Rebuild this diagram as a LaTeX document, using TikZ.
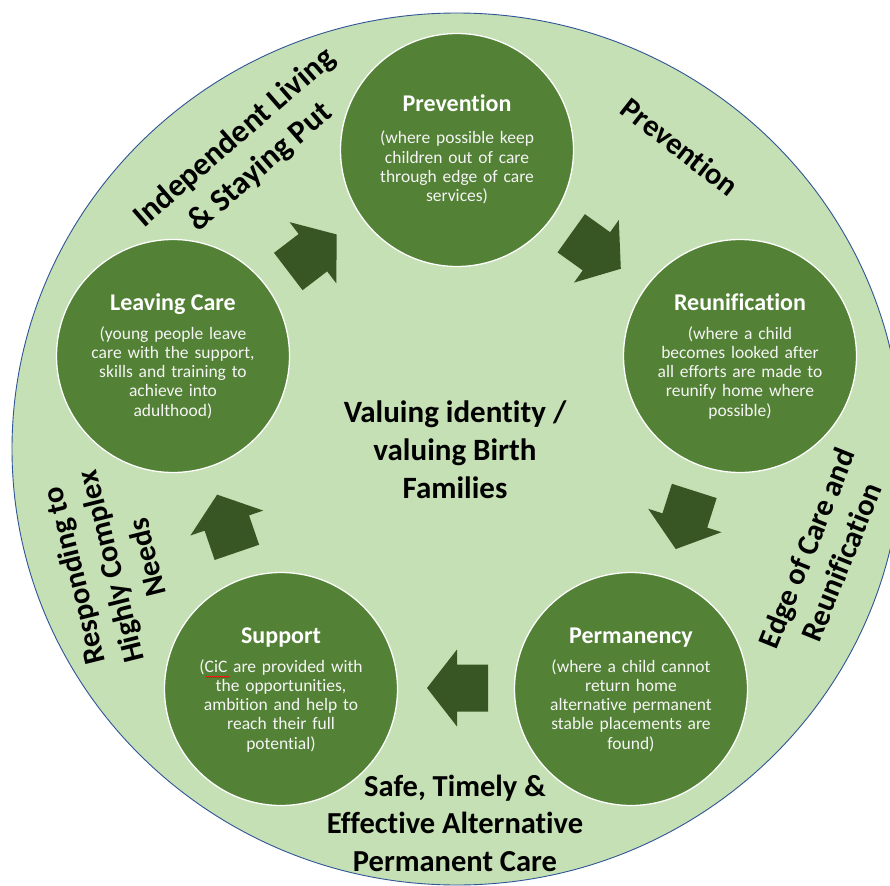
\documentclass[tikz,border=0pt]{standalone}
\usepackage{fontspec}
\setmainfont{Carlito}[Ligatures={NoCommon}]
\usetikzlibrary{decorations.pathmorphing}
\definecolor{bigfill}{HTML}{C5E0B4}
\definecolor{bigline}{HTML}{2F5597}
\definecolor{stagefill}{HTML}{538135}
\definecolor{arrowfill}{HTML}{375623}
\newcommand{\stagearrow}[4]{%
  \fill[arrowfill,shift={(#2,#3)},rotate=#4] (-30.5,-23.5) coordinate (#1) -- (0.5,-23.5) -- (0.5,-38.5) -- (30.5,0) -- (0.5,38.5) -- (0.5,23.5) -- (-30.5,23.5) -- cycle;}
\begin{document}
\begin{tikzpicture}[x=1pt,y=-1pt,
  stage/.style={circle,draw=white,line width=1.3pt,fill=stagefill,minimum size=233pt,inner sep=0pt},
  stagetitle/.style={text=white,font=\fontsize{24}{28}\selectfont\bfseries,anchor=base,inner sep=0pt},
  stagebody/.style={text=white!96!black,font=\fontsize{17.5}{19.3}\selectfont,align=center,anchor=base,inner sep=0pt,text width=220pt},
  outer/.style={text=black,font=\fontsize{30.5}{37.5}\selectfont\bfseries,align=center,inner sep=0pt},
]
\useasboundingbox (0,0) rectangle (890,885);
\begin{scope}
\clip (0,0) rectangle (890,885);
\draw[fill=bigfill,draw=bigline,line width=0.9pt] (457,449) ellipse [x radius=445, y radius=436];
\end{scope}

% stage circles
\node[stage] (prev) at (457,150) {};
\node[stage] (reun) at (740,356) {};
\node[stage] (perm) at (631,689) {};
\node[stage] (supp) at (281,689) {};
\node[stage] (leav) at (173,356) {};

\node[stagetitle] (prevT) at ([yshift=38pt]prev.center) {Prevention};
\node[stagebody] (prevB) at ([yshift=6pt]prev.center) {(where possible keep\\children out of care\\through edge of care\\services)};

\node[stagetitle] (reunT) at ([yshift=46pt]reun.center) {Reunification};
\node[stagebody] (reunB) at ([yshift=17pt]reun.center) {(where a child\\becomes looked after\\all efforts are made to\\reunify home where\\possible)};

\node[stagetitle] (permT) at ([yshift=46pt]perm.center) {Permanency};
\node[stagebody] (permB) at ([yshift=17pt]perm.center) {(where a child cannot\\return home\\alternative permanent\\stable placements are\\found)};

\node[stagetitle] (suppT) at ([yshift=46pt]supp.center) {Support};
\node[stagebody] (suppB) at ([yshift=17pt]supp.center) {(CiC are provided with\\the opportunities,\\ambition and help to\\reach their full\\potential)};

\node[stagetitle] (leavT) at ([yshift=46pt]leav.center) {Leaving Care};
\node[stagebody] (leavB) at ([yshift=17pt]leav.center) {(young people leave\\care with the support,\\skills and training to\\achieve into\\adulthood)};

% spelling squiggle under CiC
\draw[red,line width=0.5pt,decorate,decoration={snake,amplitude=0.6pt,segment length=2pt}] (206,677) -- (230,677);

% arrows
\stagearrow{a1}{312.5}{253}{37.4}
\stagearrow{a2}{596}{251}{-35.6}
\stagearrow{a3}{685}{520}{-107.7}
\stagearrow{a4}{457.5}{688}{180}
\stagearrow{a5}{227}{523.5}{108.9}

% centre text (base anchor = last line's baseline)
\node[outer,font=\fontsize{31}{38}\selectfont\bfseries,anchor=base] (core) at (455,498) {Valuing identity /\\valuing Birth\\Families};

% outer labels
\node[outer,font=\fontsize{32}{39}\selectfont\bfseries,rotate=41,anchor=base] (indep) at (266,174) {Independent Living\\\& Staying Put};
\node[outer,rotate=-38] (prevO) at (680,147) {Prevention};
\node[outer,rotate=68] (edge) at (824,555) {Edge of Care and\\Reunification};
\node[outer,anchor=base] (safe) at (455,871) {Safe, Timely \&\\Effective Alternative\\Permanent Care};
\node[outer,rotate=104] (resp) at (110,567) {Responding to\\Highly Complex\\Needs};
\end{tikzpicture}
\end{document}
